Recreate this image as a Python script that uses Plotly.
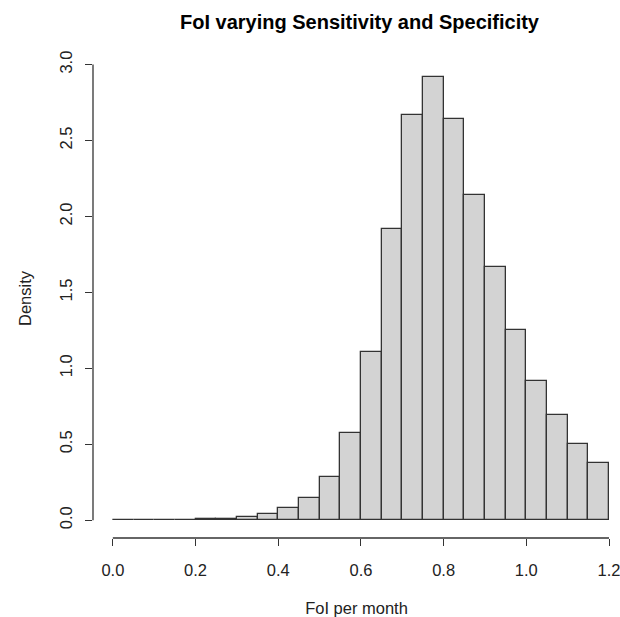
import plotly.graph_objects as go

bin_edges = [0.00, 0.05, 0.10, 0.15, 0.20, 0.25, 0.30, 0.35, 0.40, 0.45, 0.50, 0.55,
             0.60, 0.65, 0.70, 0.75, 0.80, 0.85, 0.90, 0.95, 1.00, 1.05, 1.10, 1.15, 1.20]
density = [0.0, 0.0, 0.0, 0.0, 0.006, 0.008, 0.02, 0.04, 0.081, 0.145, 0.285, 0.574,
           1.108, 1.919, 2.67, 2.92, 2.64, 2.14, 1.67, 1.25, 0.92, 0.69, 0.50, 0.376]
x_ticks = [0.0, 0.2, 0.4, 0.6, 0.8, 1.0, 1.2]
x_tick_labels = ["0.0", "0.2", "0.4", "0.6", "0.8", "1.0", "1.2"]
y_ticks = [0.0, 0.5, 1.0, 1.5, 2.0, 2.5, 3.0]
y_tick_labels = ["0.0", "0.5", "1.0", "1.5", "2.0", "2.5", "3.0"]

centers = [(a + b) / 2 for a, b in zip(bin_edges[:-1], bin_edges[1:])]
widths = [b - a for a, b in zip(bin_edges[:-1], bin_edges[1:])]

FONT = "Liberation Sans, Arial, sans-serif"
INK = "#333333"

W, H = 620, 617
L, T, B = 93, 59, 79

fig = go.Figure()
fig.add_trace(go.Bar(
    x=centers, y=density, width=widths,
    marker=dict(color="#D3D3D3", line=dict(color=INK, width=1.3)),
    hoverinfo="x+y",
))

fig.update_layout(
    width=W, height=H,
    margin=dict(l=L, r=0, t=T, b=B),
    paper_bgcolor="white", plot_bgcolor="white",
    showlegend=False, bargap=0,
    font=dict(family=FONT, size=16.5, color="#222222"),
    xaxis=dict(
        range=[-0.048, 1.2266], tickvals=x_ticks, ticktext=x_tick_labels,
        showgrid=False, zeroline=False, showline=False, automargin=False,
        ticks="outside", ticklen=7, tickwidth=1.3, tickcolor=INK,
        ticklabelstandoff=10, ticklabeloverflow="allow",
        title=dict(text="FoI per month", standoff=25, font=dict(size=16.5)),
    ),
    yaxis=dict(
        range=[-0.1168, 3.0368], tickvals=y_ticks, ticktext=y_tick_labels,
        showgrid=False, zeroline=False, showline=False, automargin=False,
        ticks="outside", ticklen=7, tickwidth=1.3, tickcolor=INK,
        tickangle=-90, ticklabelstandoff=6,
        title=dict(text="Density", standoff=21, font=dict(size=16.5)),
    ),
    annotations=[dict(
        text="<b>FoI varying Sensitivity and Specificity</b>",
        xref="paper", yref="paper", x=(360 - L) / (W - L), y=1,
        yshift=37, xanchor="center", yanchor="middle", showarrow=False,
        font=dict(family=FONT, size=20, color="black"),
    )],
    shapes=[
        dict(type="line", xref="x", yref="paper", x0=0, x1=1.2, y0=0, y1=0,
             line=dict(color=INK, width=1.3)),
        dict(type="line", xref="paper", yref="y", x0=0, x1=0, y0=0, y1=3,
             line=dict(color=INK, width=1.3)),
    ],
)

fig.write_html(
    "out.html",
    config={"displayModeBar": False},
    post_script="document.body.style.margin='0';document.body.style.overflow='hidden';",
)
